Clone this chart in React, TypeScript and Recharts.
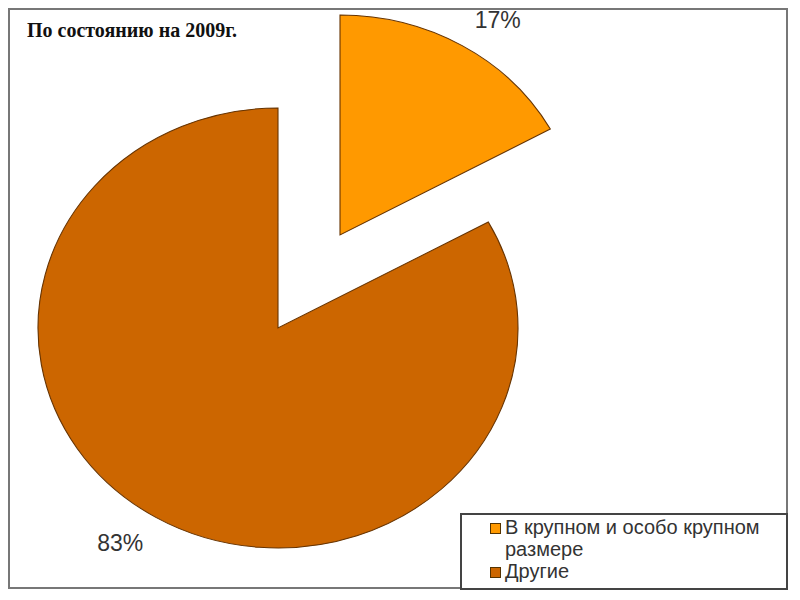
import { PieChart, Pie, Cell, Legend } from 'recharts';

const categories = ['В крупном и особо крупном размере', 'Другие'];
const shares = [17, 83];
const colors = ['#FF9900', '#CC6600'];

const data = categories.map((name, i) => ({ name, value: shares[i] }));

// the original pie is a bit wider than tall
const SX = 240 / 220;
const BIG = { cx: 278, cy: 328 };
const SMALL = { cx: 340, cy: 235 };

const RAD = Math.PI / 180;

const makeLabel = (showIndex: number) => (props: any) => {
  const { cx, cy, midAngle, percent, index } = props;
  if (index !== showIndex) return null;
  const x = cx + 250 * 1.24 * Math.cos(-midAngle * RAD);
  const y = cy + 250 * Math.sin(-midAngle * RAD);
  return (
    <text
      x={x}
      y={y}
      textAnchor="middle"
      dominantBaseline="central"
      fill="#333"
      fontSize={23}
      fontFamily="Arial, 'Liberation Sans', sans-serif"
    >
      {`${Math.round(percent * 100)}%`}
    </text>
  );
};

const renderLegend = () => (
  <div
    style={{
      boxSizing: 'border-box',
      width: 328,
      height: 77,
      border: '2px solid #444',
      background: '#fff',
      padding: '1px 12px 0 28px',
      fontFamily: "Arial, 'Liberation Sans', sans-serif",
      fontSize: 20,
      lineHeight: '22px',
      color: '#333',
    }}
  >
    {categories.map((name, i) => (
      <div key={name} style={{ position: 'relative', paddingLeft: 15 }}>
        <span
          style={{
            position: 'absolute',
            left: 0,
            top: 7,
            width: 9,
            height: 9,
            background: colors[i],
            border: '1px solid #553300',
          }}
        />
        {name}
      </div>
    ))}
  </div>
);

export default function App() {
  return (
    <div style={{ position: 'absolute', left: 0, top: 0, width: 800, height: 600, background: '#fff' }}>
      <style>{`
        .big-pie .recharts-pie-sector { transform-origin: ${BIG.cx}px ${BIG.cy}px; transform: scaleX(${SX}); }
        .small-pie .recharts-pie-sector { transform-origin: ${SMALL.cx}px ${SMALL.cy}px; transform: scaleX(${SX}); }
      `}</style>
      <div
        style={{
          position: 'absolute',
          left: 8,
          top: 8,
          width: 780,
          height: 581,
          boxSizing: 'border-box',
          border: '2px solid #777',
        }}
      />
      <div
        style={{
          position: 'absolute',
          left: 27,
          top: 19,
          fontFamily: "'Liberation Serif', 'Times New Roman', serif",
          fontWeight: 'bold',
          fontSize: 20,
          color: '#111',
        }}
      >
        По состоянию на 2009г.
      </div>
      <div style={{ position: 'absolute', left: 0, top: 0 }}>
        <PieChart width={800} height={600} margin={{ top: 0, right: 0, bottom: 0, left: 0 }}>
          <Pie
            className="big-pie"
            data={data}
            dataKey="value"
            nameKey="name"
            cx={BIG.cx}
            cy={BIG.cy}
            outerRadius={220}
            startAngle={90}
            endAngle={-270}
            stroke="#663300"
            strokeWidth={1}
            labelLine={false}
            label={makeLabel(1)}
            legendType="none"
            isAnimationActive={false}
          >
            {data.map((d, i) => (
              <Cell key={d.name} fill={i === 1 ? colors[i] : 'none'} stroke={i === 1 ? '#663300' : 'none'} />
            ))}
          </Pie>
          <Pie
            className="small-pie"
            data={data}
            dataKey="value"
            nameKey="name"
            cx={SMALL.cx}
            cy={SMALL.cy}
            outerRadius={220}
            startAngle={90}
            endAngle={-270}
            stroke="#663300"
            strokeWidth={1}
            labelLine={false}
            label={makeLabel(0)}
            isAnimationActive={false}
          >
            {data.map((d, i) => (
              <Cell key={d.name} fill={i === 0 ? colors[i] : 'none'} stroke={i === 0 ? '#663300' : 'none'} />
            ))}
          </Pie>
          <Legend
            content={renderLegend}
            wrapperStyle={{ position: 'absolute', left: 460, top: 513, width: 328, height: 77 }}
          />
        </PieChart>
      </div>
    </div>
  );
}
